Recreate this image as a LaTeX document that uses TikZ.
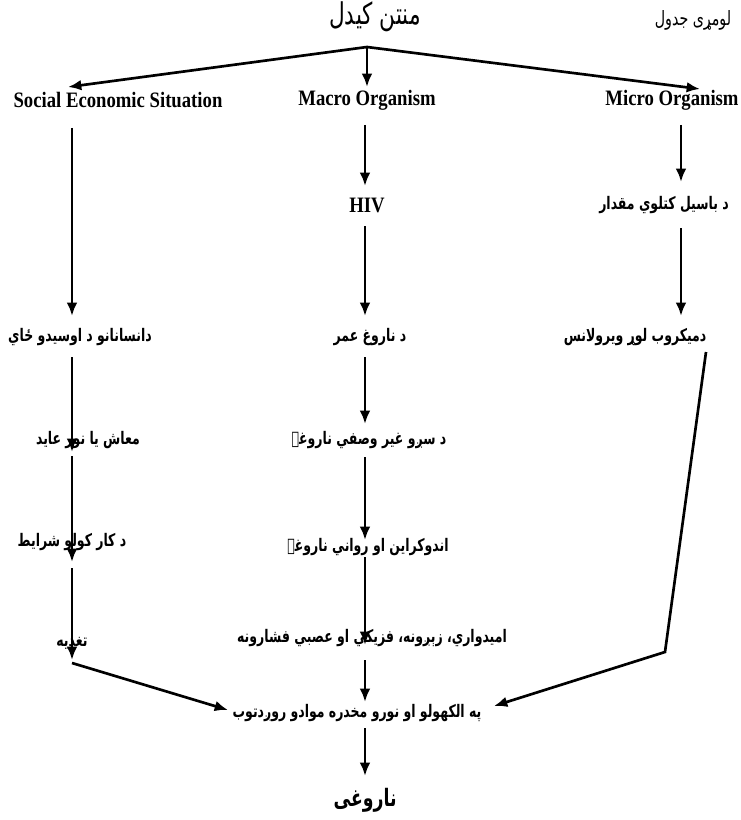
\documentclass[tikz,border=0pt]{standalone}
\usepackage{fontspec}
\setmainfont[FakeStretch=0.85]{Liberation Serif}
\newfontfamily\psfont[Script=Arabic,FakeStretch=0.72]{DejaVu Sans}
\TeXXeTstate=1
\usetikzlibrary{arrows.meta}
\tikzset{
  ar/.style={line width=2pt,-{Latex[length=10pt,width=8pt]}},
  ps/.style={font=\fontsize{13}{15}\selectfont\psfont\bfseries, inner sep=0pt},
  psbig/.style={font=\fontsize{18}{20}\selectfont\psfont\bfseries, inner sep=0pt},
  pstitle/.style={font=\fontsize{22.5}{24}\selectfont\psfont, inner sep=0pt},
  pssmall/.style={font=\fontsize{14.8}{16}\selectfont\psfont, inner sep=0pt},
  en/.style={font=\fontsize{16.5}{19}\selectfont\bfseries, inner sep=0pt}
}
\begin{document}
\begin{tikzpicture}[x=0.75pt,y=-0.75pt]
\useasboundingbox (0,0) rectangle (740,820);
% titles
\node[pstitle] (title) at (375,17) {\beginR منتن کیدل\endR};
\node[pssmall] (tbl) at (693,20) {\beginR لومړی جدول\endR};
\coordinate (top) at (367,47);
% level 1
\node[en] (ses) at (118,100) {Social Economic Situation};
\node[en] (macro) at (367,100) {Macro Organism};
\node[en] (micro) at (672,100) {Micro Organism};
\coordinate (sesT) at (68,87);
\coordinate (macT) at (367,87);
\coordinate (micT) at (700,89);
\draw[ar] (top) -- (sesT);
\draw[ar] (top) -- (macT);
\draw[ar] (top) -- (micT);
% left column
\node[ps] (ansan) at (80,337) {\beginR دانسانانو د اوسیدو ځاي\endR};
\node[ps] (maash) at (88,440) {\beginR معاش یا نور عاید\endR};
\node[ps] (kar) at (72,542) {\beginR د کار کولو شرایط\endR};
\node[ps] (tagh) at (72,643) {\beginR تغذیه\endR};
\coordinate (l1a) at (72,128); \coordinate (l1b) at (72,316);
\coordinate (l2a) at (72,357); \coordinate (l2b) at (72,452);
\coordinate (l3a) at (72,456); \coordinate (l3b) at (72,562);
\coordinate (l4a) at (72,568); \coordinate (l4b) at (72,660);
\coordinate (l5a) at (72,663); \coordinate (l5b) at (228,710);
\draw[ar] (l1a) -- (l1b);
\draw[ar] (l2a) -- (l2b);
\draw[ar] (l3a) -- (l3b);
\draw[ar] (l4a) -- (l4b);
\draw[ar] (l5a) -- (l5b);
% middle column
\node[en] (hiv) at (367,205) {HIV};
\node[ps] (omr) at (370,337) {\beginR د ناروغ عمر\endR};
\node[ps] (sro) at (369,440) {\beginR د سږو غیر وصفي ناروغۍ\endR};
\node[ps] (endo) at (368,547) {\beginR اندوکراین او رواني ناروغۍ\endR};
\node[ps] (omid) at (372,638) {\beginR امیدواري، زېږونه، فزیکي او عصبي فشارونه\endR};
\node[ps] (alc) at (357,713) {\beginR په الکهولو او نورو مخدره موادو روږدتوب\endR};
\node[psbig] (nar) at (365,800) {\beginR ناروغی\endR};
\coordinate (m1a) at (365,125); \coordinate (m1b) at (365,186);
\coordinate (m2a) at (365,226); \coordinate (m2b) at (365,316);
\coordinate (m3a) at (365,357); \coordinate (m3b) at (365,424);
\coordinate (m4a) at (365,457); \coordinate (m4b) at (365,540);
\coordinate (m5a) at (365,557); \coordinate (m5b) at (365,645);
\coordinate (m6a) at (365,660); \coordinate (m6b) at (365,702);
\coordinate (m7a) at (365,728); \coordinate (m7b) at (365,776);
\draw[ar] (m1a) -- (m1b);
\draw[ar] (m2a) -- (m2b);
\draw[ar] (m3a) -- (m3b);
\draw[ar] (m4a) -- (m4b);
\draw[ar] (m5a) -- (m5b);
\draw[ar] (m6a) -- (m6b);
\draw[ar] (m7a) -- (m7b);
% right column
\node[ps] (basil) at (664,205) {\beginR د باسیل کتلوي مقدار\endR};
\node[ps] (mikr) at (635,337) {\beginR دمیکروب لوړ ویرولانس\endR};
\coordinate (r1a) at (681,125); \coordinate (r1b) at (681,182);
\coordinate (r2a) at (681,228); \coordinate (r2b) at (681,316);
\coordinate (r3a) at (706,352); \coordinate (r3k) at (665,652); \coordinate (r3b) at (494,706);
\draw[ar] (r1a) -- (r1b);
\draw[ar] (r2a) -- (r2b);
\draw[ar] (r3a) -- (r3k) -- (r3b);
\end{tikzpicture}
\end{document}
